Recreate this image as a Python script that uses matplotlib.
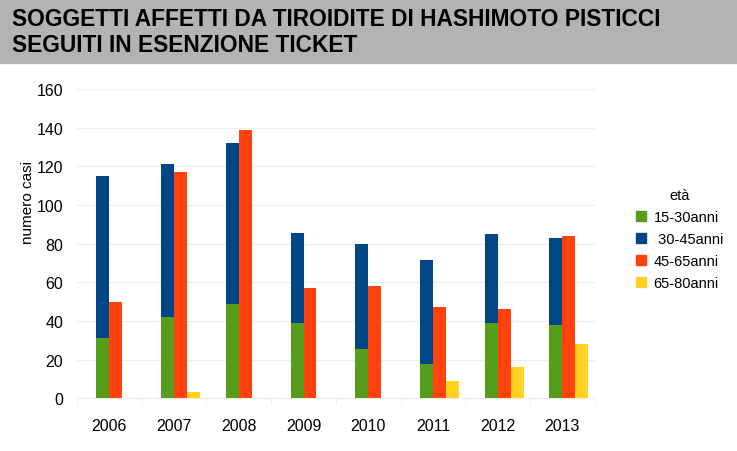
import matplotlib
matplotlib.use("Agg")
import matplotlib.pyplot as plt
import numpy as np
from matplotlib import font_manager
from matplotlib.patches import Rectangle

# data
years = ["2006", "2007", "2008", "2009", "2010", "2011", "2012", "2013"]
eta_15_30 = [31, 42, 49, 39, 25.5, 18, 39, 38]
eta_30_45 = [115, 121, 132, 85.5, 80, 71.5, 85, 83]
eta_45_65 = [50, 117, 139, 57, 58, 47, 46, 84]
eta_65_80 = [0, 3, 0, 0, 0, 9, 16, 28]
legend_labels = ["15-30anni", " 30-45anni", "45-65anni", "65-80anni"]

title_lines = ["SOGGETTI AFFETTI DA TIROIDITE DI HASHIMOTO PISTICCI",
               "SEGUITI IN ESENZIONE TICKET"]

colors = ["#579d1c", "#004586", "#ff420e", "#ffd320"]

names = {f.name for f in font_manager.fontManager.ttflist}
plt.rcParams["font.family"] = ["Liberation Sans", "DejaVu Sans"]
title_font = "Liberation Sans Narrow" if "Liberation Sans Narrow" in names else "Liberation Sans"
title_size = 19 if title_font == "Liberation Sans Narrow" else 16.4

fig = plt.figure(figsize=(7.37, 4.52), dpi=100)
ax = fig.add_axes([0.1045, 0.1166, 0.7025, 0.6843])

x = np.arange(len(years))
w = 0.2
ax.bar(x - 0.1, eta_30_45, w, color=colors[1], zorder=2)
ax.bar(x - 0.1, eta_15_30, w, color=colors[0], zorder=3)
ax.bar(x + 0.1, eta_45_65, w, color=colors[2], zorder=3)
ax.bar(x + 0.3, eta_65_80, w, color=colors[3], zorder=3)

ax.set_xlim(-0.5, len(years) - 0.5)
ax.set_ylim(0, 160)
ax.set_yticks(np.arange(0, 161, 20))
ax.set_xticks(x)
ax.set_xticklabels(years)
ax.set_xticks(np.arange(-0.5, len(years)), minor=True)
ax.tick_params(axis="x", which="major", length=0, pad=14, labelsize=11.5)
ax.tick_params(axis="x", which="minor", length=5, color="#eeeeee")
ax.tick_params(axis="y", length=0, pad=10, labelsize=11.5)
ax.grid(axis="y", color="#eeeeee", linewidth=0.8, zorder=0)
for s in ["top", "right", "left"]:
    ax.spines[s].set_visible(False)
ax.spines["bottom"].set_color("#eeeeee")

fig.text(28 / 737, 1 - 203 / 452, "numero casi", rotation=90, ha="center",
         va="center", fontsize=11)

# title banner
fig.patches.append(Rectangle((0, 1 - 64 / 452), 1, 64 / 452, transform=fig.transFigure,
                             color="#b3b3b3", zorder=0))
fig.text(12 / 737, 1 - 20 / 452, title_lines[0], fontsize=title_size, fontweight="bold",
         family=title_font, va="center")
fig.text(12 / 737, 1 - 46 / 452, title_lines[1], fontsize=title_size, fontweight="bold",
         family=title_font, va="center")

handles = [Rectangle((0, 0), 1, 1, color=c) for c in colors]
leg = fig.legend(handles, legend_labels, title="età", loc="upper left",
                 bbox_to_anchor=(623 / 737, 1 - 176 / 452), frameon=False,
                 fontsize=10.5, title_fontsize=10.5, handlelength=0.7,
                 handleheight=0.7, handletextpad=0.5, labelspacing=0.55)

fig.savefig("out.png", dpi=100)
